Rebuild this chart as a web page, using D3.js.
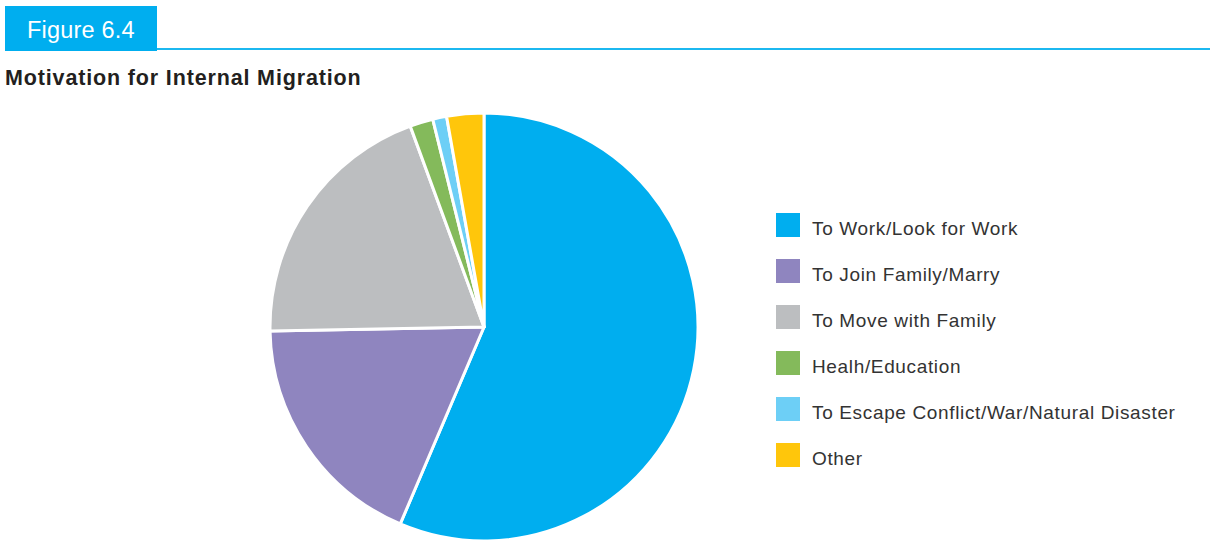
<!DOCTYPE html>
<html><head><meta charset="utf-8">
<script src="https://cdn.jsdelivr.net/npm/d3@7"></script>
<style>body{margin:0;background:#fff;font-family:"Liberation Sans",Arial,sans-serif;}</style>
</head><body>
<svg id="c" width="1210" height="541"></svg>
<script>
const categories = ["To Work/Look for Work","To Join Family/Marry","To Move with Family","Healh/Education","To Escape Conflict/War/Natural Disaster","Other"];
const values = [56.4, 18.3, 19.7, 1.75, 1.05, 2.8];
const colors = ["#00AEEF","#8F85BF","#BCBEC0","#84BA5B","#6DCFF6","#FFC60B"];

const svg = d3.select("#c");
// header
svg.append("rect").attr("x",5).attr("y",6).attr("width",152).attr("height",45).attr("fill","#00AEEF");
svg.append("text").attr("x",27).attr("y",38).attr("fill","#fff").attr("font-size",23.5).attr("letter-spacing",0.2).text("Figure 6.4");
svg.append("line").attr("x1",157).attr("x2",1210).attr("y1",49).attr("y2",49).attr("stroke","#1CB8F0").attr("stroke-width",2);
svg.append("text").attr("x",5).attr("y",85).attr("fill","#231F20").attr("font-size",21.5).attr("font-weight","bold")
  .attr("letter-spacing",0.85).text("Motivation for Internal Migration");

const cx=484, cy=327, r=214;
const pie = d3.pie().sort(null).value(d=>d.v);
const arc = d3.arc().innerRadius(0).outerRadius(r);
const data = categories.map((c,i)=>({c, v:values[i], col:colors[i]}));
svg.append("g").attr("transform",`translate(${cx},${cy})`)
  .selectAll("path").data(pie(data)).join("path")
  .attr("d",arc).attr("fill",d=>d.data.col).attr("stroke","#fff").attr("stroke-width",3).attr("stroke-linejoin","round");

const y = d3.scaleBand().domain(categories).range([213, 213+46*6]);
const lg = svg.append("g").selectAll("g").data(data).join("g")
  .attr("transform",d=>`translate(776,${y(d.c)})`);
lg.append("rect").attr("width",24).attr("height",24).attr("fill",d=>d.col);
lg.append("text").attr("x",36).attr("y",22).attr("font-size",19).attr("letter-spacing",0.65).attr("fill","#333").text(d=>d.c);
</script>
</body></html>
